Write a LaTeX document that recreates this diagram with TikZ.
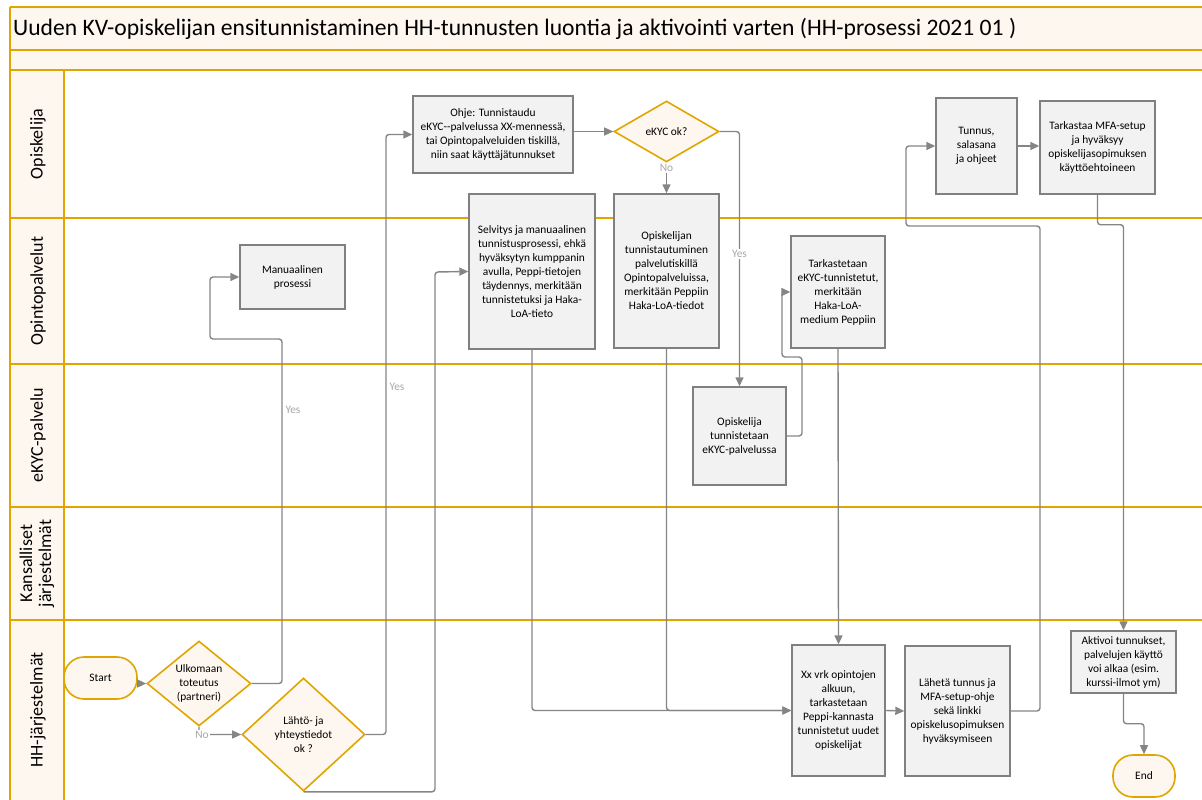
\documentclass[tikz,border=0pt]{standalone}
\usepackage{fontspec}
\setmainfont{Carlito}
\usetikzlibrary{shapes.geometric,arrows.meta}
\definecolor{gold}{HTML}{E0A500}
\definecolor{cream}{HTML}{FEF7EF}
\definecolor{boxfill}{HTML}{F2F2F2}
\definecolor{boxline}{HTML}{808080}
\definecolor{conncol}{HTML}{858585}
\definecolor{lblcol}{HTML}{A8A8A8}
\tikzset{
  lane/.style={draw=gold,line width=2pt},
  lanelabel/.style={rotate=90,font=\fontsize{18}{19}\selectfont,align=center,inner sep=0pt},
  procbox/.style={draw=boxline,fill=boxfill,line width=1.4pt,align=center,inner sep=1pt,
    font=\fontsize{11.4}{14}\selectfont},
  decision/.style={draw=gold,fill=cream,line width=1.6pt,shape=diamond,inner sep=0pt},
  dectext/.style={align=center,font=\fontsize{11.4}{14}\selectfont,inner sep=0pt},
  terminal/.style={draw=gold,fill=cream,line width=1.6pt,rounded corners=20pt,align=center,
    font=\fontsize{11.4}{14}\selectfont},
  conn/.style={draw=conncol,line width=1.4pt,rounded corners=3pt,
    -{Triangle[length=9pt,width=8pt]}},
  flowlabel/.style={text=lblcol,font=\fontsize{11.4}{14}\selectfont,fill=white,inner sep=1pt}
}
\begin{document}
\begin{tikzpicture}[x=1pt,y=-1pt]
\useasboundingbox (0,0) rectangle (1202,800);
\clip (0,0) rectangle (1202,800);
% background bands
\fill[cream] (10,7) rectangle (1210,70);
\fill[cream] (10,70) rectangle (64,800);
\draw[lane] (10,7) -- (1210,7);
\draw[lane] (10,50) -- (1210,50);
\draw[lane] (10,70) -- (1210,70);
\draw[lane] (10,218) -- (1210,218);
\draw[lane] (10,364) -- (1210,364);
\draw[lane] (10,507) -- (1210,507);
\draw[lane] (10,620) -- (1210,620);
\draw[lane] (10,7) -- (10,810);
\draw[lane] (64,70) -- (64,810);
% title
\node[anchor=west,inner sep=0pt,font=\fontsize{23.6}{28}\selectfont] (title) at (13,29)
  {Uuden KV-opiskelijan ensitunnistaminen HH-tunnusten luontia ja aktivointi varten (HH-prosessi 2021 01 )};
% lane labels
\node[lanelabel] (l1) at (38,144) {Opiskelija};
\node[lanelabel] (l2) at (38,291) {Opintopalvelut};
\node[lanelabel] (l3) at (38,435.5) {eKYC-palvelu};
\node[lanelabel] (l4) at (37,563.5) {Kansalliset\\järjestelmät};
\node[lanelabel] (l5) at (38,710) {HH-järjestelmät};
% nodes
\node[terminal,minimum width=73pt,minimum height=42pt] (start) at (100.5,678) {Start};
\node[decision,minimum width=104pt,minimum height=85pt] (ulk) at (199,683.5) {};
\node[dectext] (ulkt) at (ulk.center) {Ulkomaan\\toteutus\\(partneri)};
\node[decision,minimum width=123pt,minimum height=113pt] (lahto) at (303.5,734.5) {};
\node[dectext] (lahtot) at (lahto.center) {Lähtö- ja\\yhteystiedot\\ok ?};
\node[procbox,minimum width=105pt,minimum height=64pt] (manual) at (292.5,277) {Manuaalinen\\prosessi};
\node[procbox,minimum width=160pt,minimum height=77pt] (ohje) at (493,134.5)
  {Ohje: Tunnistaudu\\eKYC-{}-palvelussa XX-mennessä,\\tai Opintopalveluiden tiskillä,\\niin saat käyttäjätunnukset};
\node[decision,minimum width=105pt,minimum height=61pt] (ekycok) at (666.5,131.5) {};
\node[dectext] (ekycokt) at (ekycok.center) {eKYC ok?};
\node[procbox,minimum width=126pt,minimum height=155pt] (selv) at (532,271.5)
  {Selvitys ja manuaalinen\\tunnistusprosessi, ehkä\\hyväksytyn kumppanin\\avulla, Peppi-tietojen\\täydennys, merkitään\\tunnistetuksi ja Haka-\\LoA-tieto};
\node[procbox,minimum width=105pt,minimum height=154pt] (opt) at (666.5,271)
  {Opiskelijan\\tunnistautuminen\\palvelutiskillä\\Opintopalveluissa,\\merkitään Peppiin\\Haka-LoA-tiedot};
\node[procbox,minimum width=93pt,minimum height=98pt] (tunn) at (739.5,436)
  {Opiskelija\\tunnistetaan\\eKYC-palvelussa};
\node[procbox,minimum width=94pt,minimum height=112pt] (tark) at (838,292)
  {Tarkastetaan\\eKYC-tunnistetut,\\merkitään\\Haka-LoA-\\medium Peppiin};
\node[procbox,minimum width=81pt,minimum height=96pt] (tunnus) at (976.5,146)
  {Tunnus,\\salasana\\ja ohjeet};
\node[procbox,minimum width=115pt,minimum height=93pt] (mfa) at (1097.5,147.5)
  {Tarkastaa MFA-setup\\ja hyväksyy\\opiskelijasopimuksen\\käyttöehtoineen};
\node[procbox,minimum width=93pt,minimum height=131pt] (xx) at (838.5,710.5)
  {Xx vrk opintojen\\alkuun,\\tarkastetaan\\Peppi-kannasta\\tunnistetut uudet\\opiskelijat};
\node[procbox,minimum width=105pt,minimum height=130pt] (lahe) at (957.5,711)
  {Lähetä tunnus ja\\MFA-setup-ohje\\sekä linkki\\opiskelusopimuksen\\hyväksymiseen};
\node[procbox,minimum width=105pt,minimum height=62pt] (akt) at (1123.5,662)
  {Aktivoi tunnukset,\\palvelujen käyttö\\voi alkaa (esim.\\kurssi-ilmot ym)};
\node[terminal,minimum width=62pt,minimum height=42pt] (end) at (1144,776) {End};
% connectors
\draw[conn] (start.east |- ulk.west) -- (ulk.west);
\draw[conn] (ulk.east) -| (282,339) -| (210,277) -- (manual.west);
\node[flowlabel] (yes1) at (293,410) {Yes};
\draw[conn] (ulk.south) |- (lahto.west);
\node[flowlabel] (no1) at (202,734.5) {No};
\draw[conn] (lahto.east) -| (386,134.5) -- (ohje.west);
\node[flowlabel] (yes2) at (397,387) {Yes};
\draw[conn] (lahto.south) -| (435,272) -- (selv.west);
\draw[conn] (ohje.east |- ekycok.west) -- (ekycok.west);
\draw[conn] (ekycok.south) -- (opt.north);
\node[flowlabel] (no2) at (666.5,168) {No};
\draw[conn] (ekycok.east) -| (tunn.north);
\node[flowlabel] (yes3) at (739.5,254) {Yes};
\draw[conn] (tunn.east) -| (802,357) -| (782,292) -- (tark.west);
\draw[conn] (selv.south) |- (xx.west);
\draw[conn] (opt.south) |- (xx.west);
\draw[conn] (tark.south) -- (xx.north);
\draw[conn] (xx.east) -- (lahe.west);
\draw[conn] (lahe.east) -| (1040,226) -| (906,146) -- (tunnus.west);
\draw[conn] (tunnus.east) -- (tunnus.east -| mfa.west);
\draw[conn] (mfa.south) -- ++(0,30) -| (akt.north);
\draw[conn] (akt.south) -- ++(0,30) -| (end.north);
\end{tikzpicture}
\end{document}
